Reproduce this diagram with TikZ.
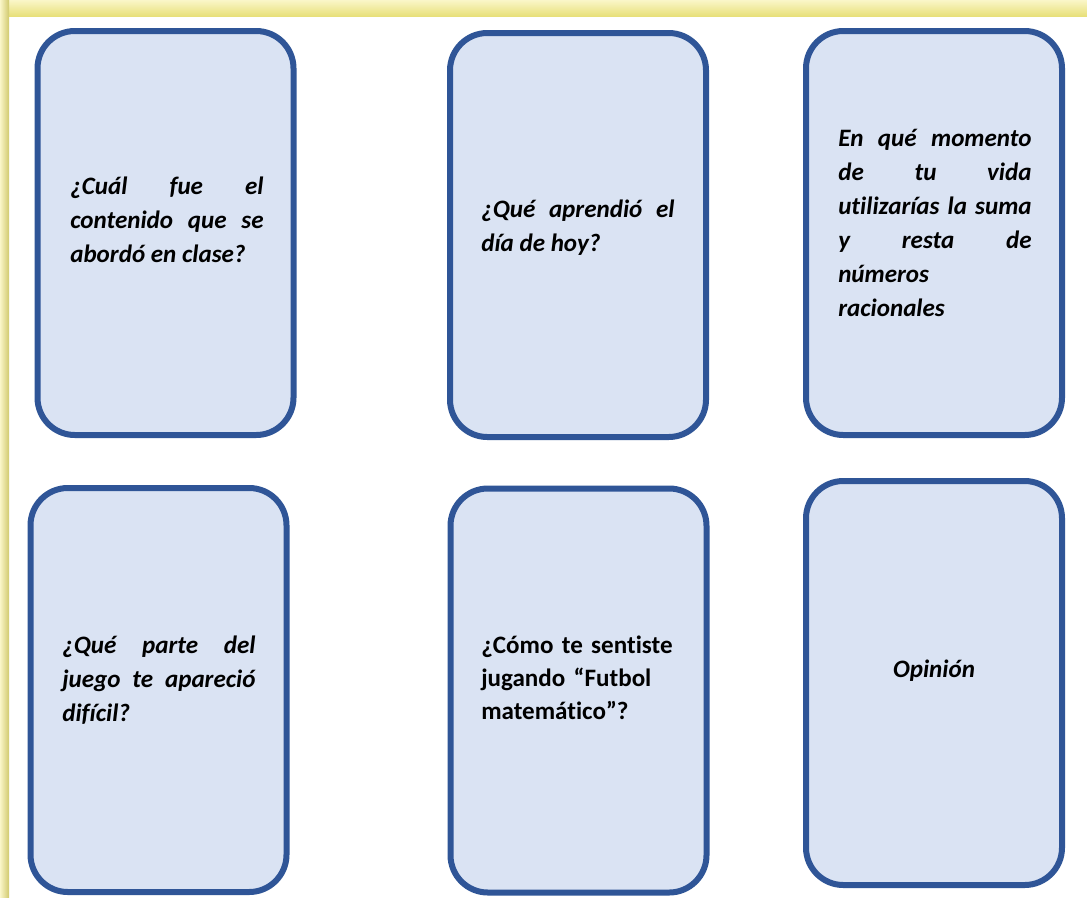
\documentclass[tikz,border=0pt]{standalone}
\usepackage{fontspec}
\setmainfont{Carlito}[Ligatures=NoCommon]
\definecolor{cardfill}{HTML}{DAE3F3}
\definecolor{carddraw}{HTML}{2F5597}
\definecolor{frameyellow}{HTML}{E8E07A}
\definecolor{framelight}{HTML}{FAF6C8}
\tikzset{
  card/.style={draw=carddraw, fill=cardfill, line width=4.5pt,
    rounded corners=28pt, minimum width=192pt, minimum height=303pt,
    inner sep=0pt},
  cardtext/.style={anchor=base west, inner sep=0pt, text width=145pt,
    align=justify, font=\fontsize{18.8pt}{25.5pt}\selectfont\bfseries\itshape},
}
\begin{document}
\begin{tikzpicture}[x=0.75pt,y=-0.75pt]

    % Marco (1 unidad = 1 pixel)
    \useasboundingbox (0,0) rectangle (1087,897);
    \fill[white] (0,0) rectangle (1087,897);
    \shade[top color=framelight, bottom color=frameyellow] (0,0) rectangle (1087,16);
    \shade[left color=framelight, right color=frameyellow!90!black] (0,0) rectangle (9,897);

    % Tarjetas
    \foreach \name/\cx/\cy in {
        c1/165.5/233,
        c2/578/235,
        c3/934/233,
        c4/158.5/690,
        c5/578.5/690.5,
        c6/934/683
    }{
      \node[card] (\name) at (\cx,\cy) {};
    }

    % ---- Preguntas ----
    \node[cardtext] (t1) at (70,194)
      {¿Cuál fue el\linebreak contenido que se\linebreak abordó en clase?};
    \node[cardtext] (t2) at (481,217)
      {¿Qué aprendió el\linebreak día de hoy?};
    \node[cardtext] (t3) at (838,146)
      {En qué momento\linebreak de tu vida\linebreak utilizarías la suma\linebreak
       y resta de\linebreak números\newline racionales};
    \node[cardtext] (t4) at (62,653)
      {¿Qué parte del\linebreak juego te apareció\linebreak difícil?};
    \node[cardtext, align=left, font=\fontsize{18.8pt}{25pt}\selectfont\bfseries] (t5) at (481,653)
      {¿Cómo te sentiste\\ jugando “Futbol\\ matemático”?};
    \node[anchor=base, inner sep=0pt, font=\fontsize{18.8pt}{25.5pt}\selectfont\bfseries\itshape]
      (t6) at (934,677) {Opinión};

\end{tikzpicture}
\end{document}
